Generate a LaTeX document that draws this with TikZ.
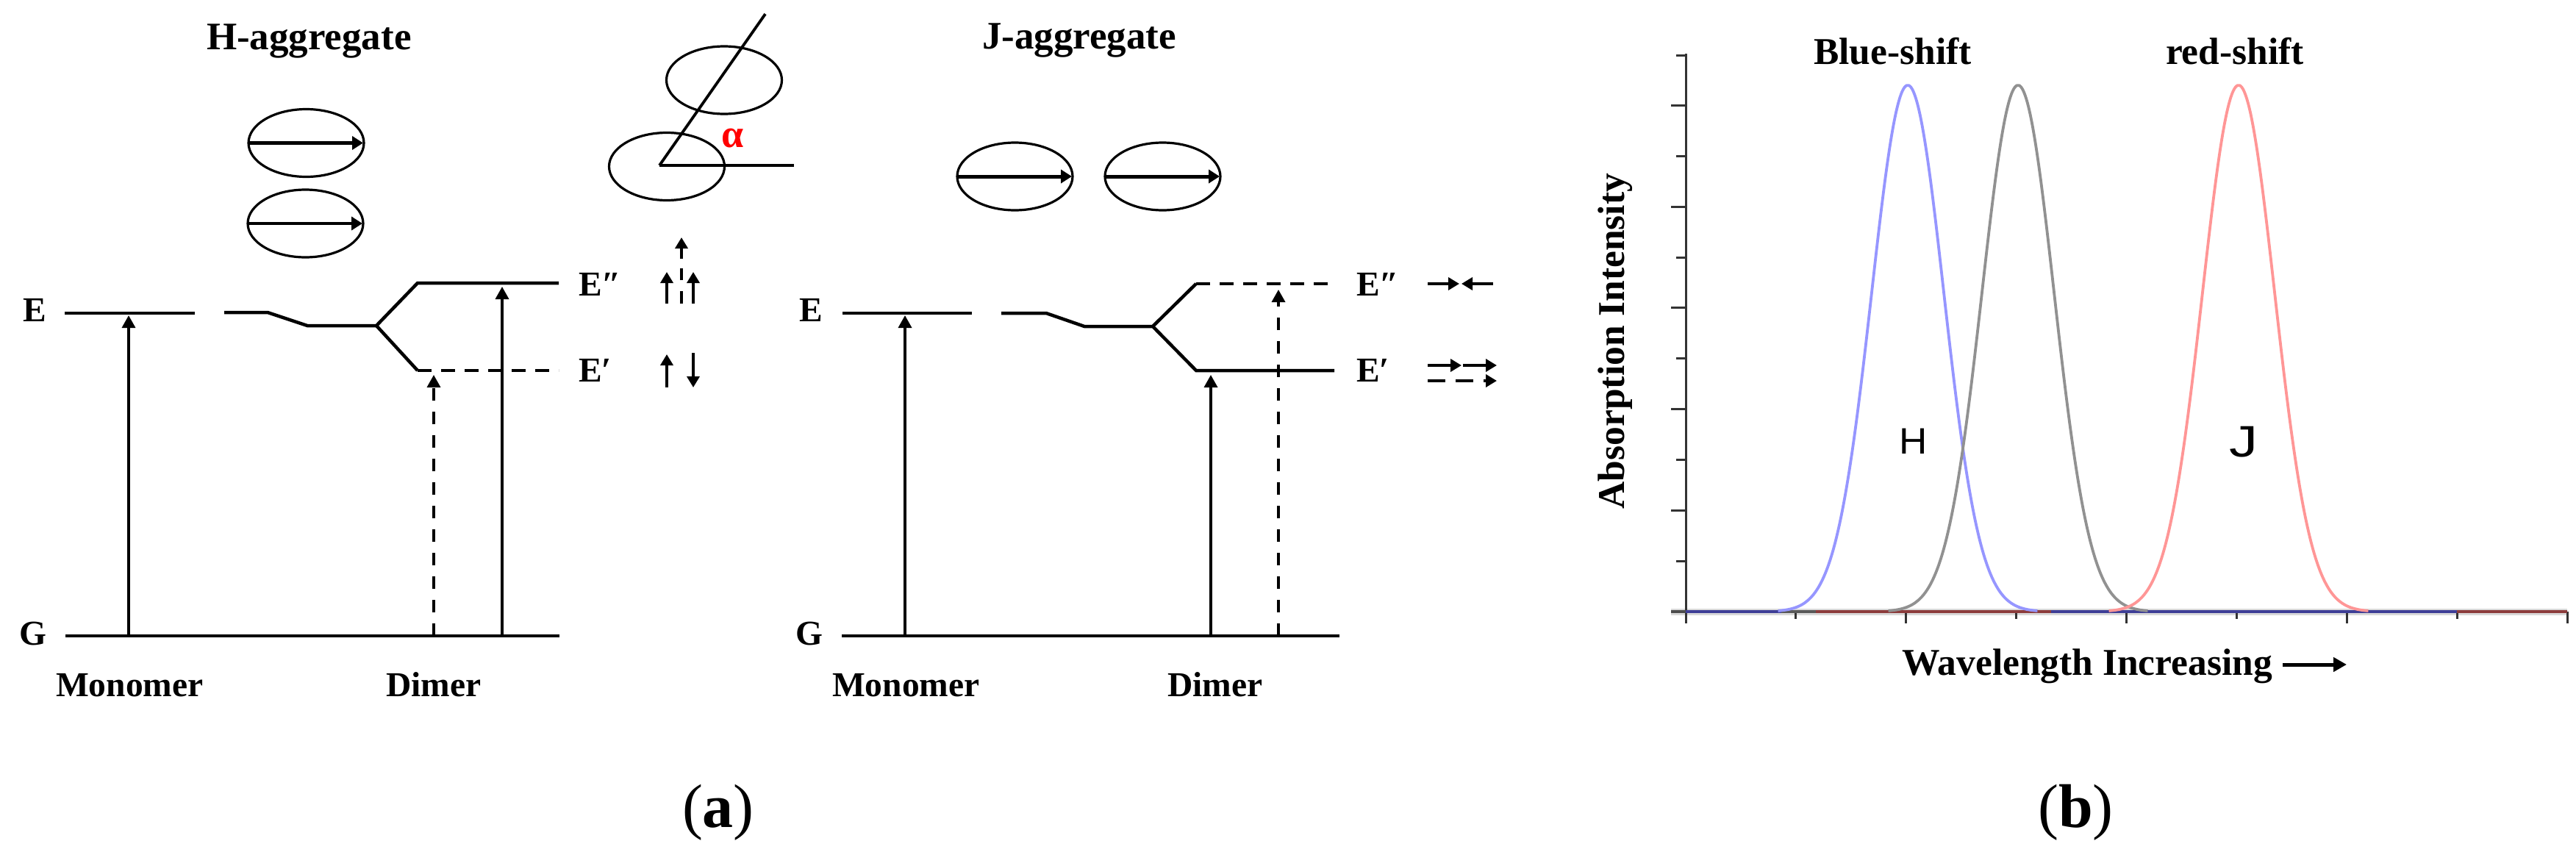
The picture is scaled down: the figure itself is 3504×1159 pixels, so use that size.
\documentclass[tikz,border=0pt]{standalone}
\usepackage{fontspec}
\setmainfont{Liberation Serif}
\newfontfamily\arialf{Liberation Sans}
\usetikzlibrary{arrows.meta,shapes.geometric}
\tikzset{
 txt/.style={inner sep=0pt,outer sep=0pt,anchor=base west},
 fa/.style={txt,font=\fontsize{53}{56}\selectfont\bfseries},
 fb/.style={txt,font=\fontsize{47.5}{50}\selectfont\bfseries},
 fc/.style={txt,font=\fontsize{51.5}{54}\selectfont\bfseries},
 fd/.style={txt,font=\fontsize{84}{90}\selectfont},
 lev/.style={line width=4.5pt,line join=miter},
 orb/.style={draw,ellipse,line width=3.2pt,inner sep=0pt,outer sep=0pt,minimum width=157pt,minimum height=92pt},
 dipole/.style={line width=5pt,-{Triangle[length=15pt,width=18pt]},shorten >=1pt},
 trans/.style={line width=3.4pt,-{Triangle[length=17pt,width=18pt]}},
 transd/.style={trans,dash pattern=on 17pt off 15pt},
 pol/.style={line width=3.6pt,-{Triangle[length=15pt,width=17pt]}},
 levd/.style={lev,dash pattern=on 19pt off 13pt},
 poldash/.style={line width=3.6pt,dash pattern=on 17pt off 15pt},
 axis/.style={line width=3pt,black!80},
 curve/.style={line width=3.8pt,line join=round},
}
\begin{document}
\begin{tikzpicture}[x=1pt,y=-1pt]
\useasboundingbox (0,0) rectangle (3504,1159);
\fill[white] (0,0) rectangle (3504,1159);
% ---------- H-aggregate
\node[fa] (ht) at (281,67) {H-aggregate};
\node[orb] (ho1) at (416.5,194.5) {};
\node[orb] (ho2) at (415.5,304) {};
\draw[dipole] (ho1.west) -- (ho1.east);
\draw[dipole,line width=4.2pt] (ho2.west) -- (ho2.east);
% tilted pair
\node[orb] (to1) at (907,226.5) {};
\node[orb] (to2) at (985,109) {};
\coordinate (tc) at (897,225);
\coordinate (te1) at (1041,19);
\coordinate (te2) at (1080,225);
\draw[line width=3.8pt] (te1) -- (tc);
\draw[line width=4.6pt] (tc) -- (te2);
\node[txt,anchor=center,text=red,font=\fontsize{54}{56}\selectfont\bfseries] (alpha) at (997,188) {α};
% H levels
\node[fb] (hE) at (31,437) {E};
\node[fb] (hG) at (26,877) {G};
\node[fb] (hEb) at (787,402) {E″};
\node[fb] (hEa) at (787,519) {E′};
\node[fb] (hMon) at (76,947) {Monomer};
\node[fb] (hDim) at (525,947) {Dimer};
\coordinate (h1a) at (88,426); \coordinate (h1b) at (265,426);
\coordinate (h2a) at (305,425); \coordinate (h2b) at (364,425);
\coordinate (h2c) at (418,443); \coordinate (hfork) at (512,443);
\coordinate (hup) at (568,385); \coordinate (hupe) at (760,385);
\coordinate (hdn) at (568,504); \coordinate (hdne) at (760,504);
\coordinate (hg1) at (89,865); \coordinate (hg2) at (761,865);
\draw[lev] (h1a) -- (h1b);
\draw[lev] (h2a) -- (h2b) -- (h2c) -- (hfork) -- (hup) -- (hupe);
\draw[lev] (hfork) -- (hdn);
\draw[levd] (hdn) -- (hdne);
\draw[lev] (hg1) -- (hg2);
\coordinate (hm0) at (175,865); \coordinate (hm1) at (175,429);
\coordinate (hd0) at (590,865); \coordinate (hd1) at (590,510);
\coordinate (hs0) at (683,865); \coordinate (hs1) at (683,390);
\draw[trans] (hm0) -- (hm1);
\draw[transd] (hd0) -- (hd1);
\draw[trans] (hs0) -- (hs1);
% H polarisation arrows
\coordinate (p1a) at (927,352); \coordinate (p1b) at (927,323);
\coordinate (p2a) at (907,413); \coordinate (p2b) at (907,370);
\coordinate (p3a) at (943,413); \coordinate (p3b) at (943,370);
\coordinate (p4a) at (927,413); \coordinate (p4b) at (927,365);
\coordinate (p5a) at (907,527); \coordinate (p5b) at (907,482);
\coordinate (p6a) at (943,480); \coordinate (p6b) at (943,527);
\draw[pol] (p1a) -- (p1b);
\draw[pol] (p2a) -- (p2b);
\draw[pol] (p3a) -- (p3b);
\draw[poldash] (p4a) -- (p4b);
\draw[pol] (p5a) -- (p5b);
\draw[pol] (p6a) -- (p6b);
% ---------- J-aggregate
\node[fa] (jt) at (1336,66) {J-aggregate};
\node[orb] (jo1) at (1380.5,240) {};
\node[orb] (jo2) at (1581.5,240) {};
\draw[dipole] (jo1.west) -- (jo1.east);
\draw[dipole] (jo2.west) -- (jo2.east);
\node[fb] (jE) at (1087,437) {E};
\node[fb] (jG) at (1082,877) {G};
\node[fb] (jEb) at (1845,402) {E″};
\node[fb] (jEa) at (1845,519) {E′};
\node[fb] (jMon) at (1132,947) {Monomer};
\node[fb] (jDim) at (1588,947) {Dimer};
\coordinate (j1a) at (1146,426); \coordinate (j1b) at (1322,426);
\coordinate (j2a) at (1362,426); \coordinate (j2b) at (1423,426);
\coordinate (j2c) at (1475,444); \coordinate (jfork) at (1568,444);
\coordinate (jup) at (1627,386); \coordinate (jupe) at (1815,386);
\coordinate (jdn) at (1627,504); \coordinate (jdne) at (1815,504);
\coordinate (jg1) at (1145,865); \coordinate (jg2) at (1822,865);
\draw[lev] (j1a) -- (j1b);
\draw[lev] (j2a) -- (j2b) -- (j2c) -- (jfork) -- (jdn) -- (jdne);
\draw[lev] (jfork) -- (jup);
\draw[levd] (jup) -- (jupe);
\draw[lev] (jg1) -- (jg2);
\coordinate (jm0) at (1231,865); \coordinate (jm1) at (1231,429);
\coordinate (js0) at (1647,865); \coordinate (js1) at (1647,510);
\coordinate (jd0) at (1739,865); \coordinate (jd1) at (1739,394);
\draw[trans] (jm0) -- (jm1);
\draw[trans] (js0) -- (js1);
\draw[transd] (jd0) -- (jd1);
% J polarisation arrows
\coordinate (q1a) at (1942,386); \coordinate (q1b) at (1985,386);
\coordinate (q2a) at (2031,386); \coordinate (q2b) at (1988,386);
\coordinate (q3a) at (1942,497); \coordinate (q3b) at (1988,497);
\coordinate (q4a) at (1990,497); \coordinate (q4b) at (2036,497);
\coordinate (q5a) at (1942,518); \coordinate (q5b) at (2036,518);
\draw[pol] (q1a) -- (q1b);
\draw[pol] (q2a) -- (q2b);
\draw[pol] (q3a) -- (q3b);
\draw[pol] (q4a) -- (q4b);
\draw[pol,dash pattern=on 24pt off 14pt] (q5a) -- (q5b);
% ---------- spectrum
\coordinate (ya) at (2293,73); \coordinate (yb) at (2293,848);
\coordinate (xa) at (2273,832); \coordinate (xb) at (3492,832);
\draw[line width=9pt,black!15] (xa) -- (xb);
\draw[axis] (ya) -- (yb);
\foreach \yy in {143,281,418,556,694,832} \draw[axis] (2273,\yy) -- (2293,\yy);
\foreach \yy in {75,212,350,487,625,763} \draw[axis] (2280,\yy) -- (2293,\yy);
\foreach \xx in {2592,2892,3192,3492} \draw[axis] (\xx,832) -- (\xx,848);
\foreach \xx in {2442,2742,3042,3342} \draw[axis] (\xx,832) -- (\xx,842);
\draw[line width=4pt,black!70] (2273,832) -- (2293,832);
\draw[line width=4pt,color={rgb,255:red,62;green,62;blue,150}] (2293,832) -- (2423,832);
\draw[line width=4pt,black!65] (2423,832) -- (2470,832);
\draw[line width=4pt,color={rgb,255:red,140;green,60;blue,60}] (2470,832) -- (2790,832);
\draw[line width=4pt,color={rgb,255:red,62;green,62;blue,150}] (2790,832) -- (3342,832);
\draw[line width=4pt,color={rgb,255:red,140;green,60;blue,60}] (3342,832) -- (3492,832);
\draw[curve,color={rgb,255:red,150;green,150;blue,255}] plot[domain=-3.6:3.6,samples=120,smooth] ({2595+49*\x},{832-716*exp(-\x*\x/2)});
\draw[curve,color={rgb,255:red,145;green,145;blue,145}] plot[domain=-3.6:3.6,samples=120,smooth] ({2745+49*\x},{832-716*exp(-\x*\x/2)});
\draw[curve,color={rgb,255:red,255;green,150;blue,150}] plot[domain=-3.6:3.6,samples=120,smooth] ({3045+49*\x},{832-716*exp(-\x*\x/2)});
\node[fc] (blue) at (2467,87) {Blue-shift};
\node[fc] (redl) at (2946,87) {red-shift};
\node[fc,rotate=90,anchor=base] (ylab) at (2209,464) {Absorption Intensity};
\node[fc] (xlab) at (2587,918) {Wavelength Increasing};
\coordinate (xar0) at (3105,904); \coordinate (xar1) at (3192,904);
\draw[line width=5pt,-{Triangle[length=18pt,width=19pt]}] (xar0) -- (xar1);
\node[txt,font=\arialf\fontsize{50}{52}\selectfont] (H) at (2583,617) {\scalebox{1.06}[1]{H}};
\node[txt,font=\arialf\fontsize{60}{62}\selectfont] (J) at (3032,621) {\scalebox{1.3}[1]{J}};
% ---------- captions
\node[fd] (capa) at (928,1125) {(\textbf{a})};
\node[fd] (capb) at (2772,1125) {(\textbf{b})};
\end{tikzpicture}
\end{document}
